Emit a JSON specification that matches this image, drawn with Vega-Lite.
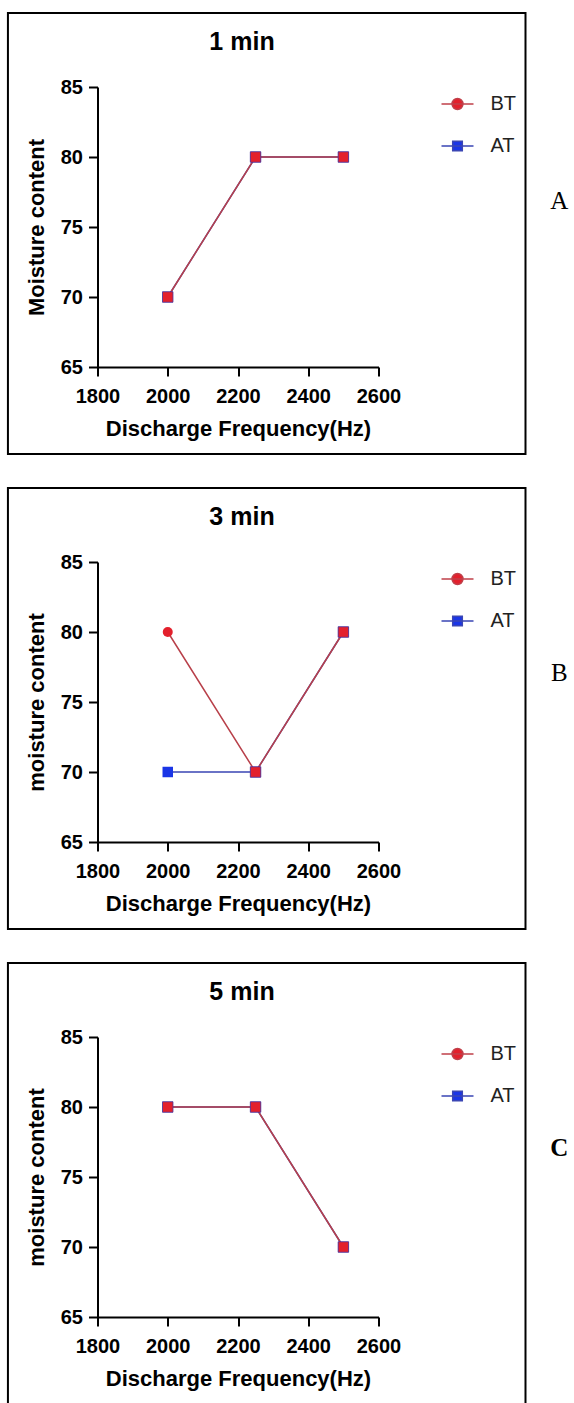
{
  "$schema": "https://vega.github.io/schema/vega-lite/v6.json",
  "background": "white",
  "padding": {"left": 6.5, "top": 11, "right": 0, "bottom": 0},
  "spacing": 31,
  "datasets": {
    "points": [
      {"panel": "A", "freq": 2000, "series": "AT", "value": 70},
      {"panel": "A", "freq": 2250, "series": "AT", "value": 80},
      {"panel": "A", "freq": 2500, "series": "AT", "value": 80},
      {"panel": "A", "freq": 2000, "series": "BT", "value": 70},
      {"panel": "A", "freq": 2250, "series": "BT", "value": 80},
      {"panel": "A", "freq": 2500, "series": "BT", "value": 80},
      {"panel": "B", "freq": 2000, "series": "AT", "value": 70},
      {"panel": "B", "freq": 2250, "series": "AT", "value": 70},
      {"panel": "B", "freq": 2500, "series": "AT", "value": 80},
      {"panel": "B", "freq": 2000, "series": "BT", "value": 80},
      {"panel": "B", "freq": 2250, "series": "BT", "value": 70},
      {"panel": "B", "freq": 2500, "series": "BT", "value": 80},
      {"panel": "C", "freq": 2000, "series": "AT", "value": 80},
      {"panel": "C", "freq": 2250, "series": "AT", "value": 80},
      {"panel": "C", "freq": 2500, "series": "AT", "value": 70},
      {"panel": "C", "freq": 2000, "series": "BT", "value": 80},
      {"panel": "C", "freq": 2250, "series": "BT", "value": 80},
      {"panel": "C", "freq": 2500, "series": "BT", "value": 70}
    ],
    "panels": [
      {"panel": "A", "time": "1 min"},
      {"panel": "B", "time": "3 min"},
      {"panel": "C", "time": "5 min"}
    ]
  },
  "vconcat": [
    {
      "width": 281, "height": 280,
      "title": {"text": "1 min", "fontSize": 25, "fontWeight": "bold", "font": "Liberation Sans", "color": "black", "offset": -37, "dy": 26, "baseline": "alphabetic", "frame": "group", "anchor": "middle", "dx": 4},
      "layer": [
        {
          "data": {"name": "panels"},
          "transform": [{"filter": "datum.panel === 'A'"}],
          "mark": {"type": "rect", "filled": false, "stroke": "black", "strokeWidth": 2, "clip": false},
          "encoding": {
            "x": {"datum": 1545, "type": "quantitative", "scale": {"domain": [1800, 2600], "nice": false, "zero": false}, "axis": {"values": [1800, 2000, 2200, 2400, 2600], "format": "d", "title": "Discharge Frequency(Hz)"}},
            "x2": {"datum": 3018.5},
            "y": {"datum": 90.29, "type": "quantitative", "scale": {"domain": [65, 85], "nice": false, "zero": false}, "axis": {"values": [65, 70, 75, 80, 85], "title": "Moisture content"}},
            "y2": {"datum": 58.79}
          }
        },
        {
          "data": {"name": "panels"},
          "transform": [{"filter": "datum.panel === 'A'"}],
          "mark": {"type": "text", "font": "Liberation Serif", "fontSize": 25, "align": "center", "baseline": "alphabetic", "color": "black", "clip": false},
          "encoding": {"x": {"datum": 3115, "type": "quantitative"}, "y": {"datum": 76.3, "type": "quantitative"}, "text": {"field": "panel"}}
        },
        {"data": {"name": "points"}, "transform": [{"filter": "datum.panel === 'A' && datum.series === 'AT'"}], "mark": {"type": "line", "color": "#3a46b4", "strokeWidth": 1.5},
          "encoding": {"x": {"field": "freq", "type": "quantitative"}, "y": {"field": "value", "type": "quantitative"}}},
        {"data": {"name": "points"}, "transform": [{"filter": "datum.panel === 'A' && datum.series === 'BT'"}], "mark": {"type": "line", "color": "#b8404a", "strokeWidth": 1.5},
          "encoding": {"x": {"field": "freq", "type": "quantitative"}, "y": {"field": "value", "type": "quantitative"}}},
        {"data": {"name": "points"}, "transform": [{"filter": "datum.panel === 'A' && datum.series === 'AT'"}], "mark": {"type": "square", "filled": true, "color": "#1a35e6", "opacity": 1, "size": 110},
          "encoding": {"x": {"field": "freq", "type": "quantitative"}, "y": {"field": "value", "type": "quantitative"}}},
        {"data": {"name": "points"}, "transform": [{"filter": "datum.panel === 'A' && datum.series === 'BT'"}], "mark": {"type": "circle", "color": "#e3202c", "opacity": 1, "size": 100},
          "encoding": {"x": {"field": "freq", "type": "quantitative"}, "y": {"field": "value", "type": "quantitative"}}},
        {
          "data": {"name": "points"},
          "transform": [{"filter": "datum.panel === 'A'"}, {"pivot": "series", "value": "value", "groupby": ["freq"]}, {"filter": "datum.BT === datum.AT"}],
          "mark": {"type": "square", "filled": true, "color": "#e3202c", "stroke": "#4a3aa0", "strokeWidth": 0.8, "opacity": 1, "size": 110},
          "encoding": {"x": {"field": "freq", "type": "quantitative"}, "y": {"field": "BT", "type": "quantitative"}}
        },
        {
          "data": {"name": "points"}, "transform": [{"filter": "datum.panel === 'A'"}],
          "mark": {"type": "point", "filled": true, "opacity": 0, "strokeWidth": 1.5},
          "encoding": {
            "x": {"field": "freq", "type": "quantitative"}, "y": {"field": "value", "type": "quantitative"},
            "fill": {"field": "series", "type": "nominal", "scale": {"domain": ["BT", "AT"], "range": ["#e3202c", "#1a35e6"]},
              "legend": {"title": null, "orient": "right", "offset": 62, "padding": 0, "labelFont": "Liberation Sans", "labelFontSize": 20, "labelFontWeight": "normal", "labelColor": "#222222", "symbolSize": 1024, "labelOffset": 16, "rowPadding": 15, "symbolOpacity": 1, "symbolStrokeWidth": 1.5}},
            "stroke": {"field": "series", "type": "nominal", "scale": {"domain": ["BT", "AT"], "range": ["#c0404a", "#3a46b4"]},
              "legend": {"title": null, "orient": "right", "offset": 62, "padding": 0, "labelFont": "Liberation Sans", "labelFontSize": 20, "labelFontWeight": "normal", "labelColor": "#222222", "symbolSize": 1024, "labelOffset": 16, "rowPadding": 15, "symbolOpacity": 1, "symbolStrokeWidth": 1.5}},
            "shape": {"field": "series", "type": "nominal", "scale": {"domain": ["BT", "AT"], "range": ["M-1,0H1M-0.34,0A0.34,0.34,0,1,1,0.34,0A0.34,0.34,0,1,1,-0.34,0Z", "M-1,0H1M-0.3,-0.3H0.3V0.3H-0.3Z"]},
              "legend": {"title": null, "orient": "right", "offset": 62, "padding": 0, "labelFont": "Liberation Sans", "labelFontSize": 20, "labelFontWeight": "normal", "labelColor": "#222222", "symbolSize": 1024, "labelOffset": 16, "rowPadding": 15, "symbolOpacity": 1, "symbolStrokeWidth": 1.5}}
          }
        }
      ]
    },
    {
      "width": 281, "height": 280,
      "title": {"text": "3 min", "fontSize": 25, "fontWeight": "bold", "font": "Liberation Sans", "color": "black", "offset": -37, "dy": 26, "baseline": "alphabetic", "frame": "group", "anchor": "middle", "dx": 4},
      "layer": [
        {
          "data": {"name": "panels"},
          "transform": [{"filter": "datum.panel === 'B'"}],
          "mark": {"type": "rect", "filled": false, "stroke": "black", "strokeWidth": 2, "clip": false},
          "encoding": {
            "x": {"datum": 1545, "type": "quantitative", "scale": {"domain": [1800, 2600], "nice": false, "zero": false}, "axis": {"values": [1800, 2000, 2200, 2400, 2600], "format": "d", "title": "Discharge Frequency(Hz)"}},
            "x2": {"datum": 3018.5},
            "y": {"datum": 90.29, "type": "quantitative", "scale": {"domain": [65, 85], "nice": false, "zero": false}, "axis": {"values": [65, 70, 75, 80, 85], "title": "moisture content"}},
            "y2": {"datum": 58.79}
          }
        },
        {
          "data": {"name": "panels"},
          "transform": [{"filter": "datum.panel === 'B'"}],
          "mark": {"type": "text", "font": "Liberation Serif", "fontSize": 25, "align": "center", "baseline": "alphabetic", "color": "black", "clip": false},
          "encoding": {"x": {"datum": 3115, "type": "quantitative"}, "y": {"datum": 76.5, "type": "quantitative"}, "text": {"field": "panel"}}
        },
        {"data": {"name": "points"}, "transform": [{"filter": "datum.panel === 'B' && datum.series === 'AT'"}], "mark": {"type": "line", "color": "#3a46b4", "strokeWidth": 1.5},
          "encoding": {"x": {"field": "freq", "type": "quantitative"}, "y": {"field": "value", "type": "quantitative"}}},
        {"data": {"name": "points"}, "transform": [{"filter": "datum.panel === 'B' && datum.series === 'BT'"}], "mark": {"type": "line", "color": "#b8404a", "strokeWidth": 1.5},
          "encoding": {"x": {"field": "freq", "type": "quantitative"}, "y": {"field": "value", "type": "quantitative"}}},
        {"data": {"name": "points"}, "transform": [{"filter": "datum.panel === 'B' && datum.series === 'AT'"}], "mark": {"type": "square", "filled": true, "color": "#1a35e6", "opacity": 1, "size": 110},
          "encoding": {"x": {"field": "freq", "type": "quantitative"}, "y": {"field": "value", "type": "quantitative"}}},
        {"data": {"name": "points"}, "transform": [{"filter": "datum.panel === 'B' && datum.series === 'BT'"}], "mark": {"type": "circle", "color": "#e3202c", "opacity": 1, "size": 100},
          "encoding": {"x": {"field": "freq", "type": "quantitative"}, "y": {"field": "value", "type": "quantitative"}}},
        {
          "data": {"name": "points"},
          "transform": [{"filter": "datum.panel === 'B'"}, {"pivot": "series", "value": "value", "groupby": ["freq"]}, {"filter": "datum.BT === datum.AT"}],
          "mark": {"type": "square", "filled": true, "color": "#e3202c", "stroke": "#4a3aa0", "strokeWidth": 0.8, "opacity": 1, "size": 110},
          "encoding": {"x": {"field": "freq", "type": "quantitative"}, "y": {"field": "BT", "type": "quantitative"}}
        },
        {
          "data": {"name": "points"}, "transform": [{"filter": "datum.panel === 'B'"}],
          "mark": {"type": "point", "filled": true, "opacity": 0, "strokeWidth": 1.5},
          "encoding": {
            "x": {"field": "freq", "type": "quantitative"}, "y": {"field": "value", "type": "quantitative"},
            "fill": {"field": "series", "type": "nominal", "scale": {"domain": ["BT", "AT"], "range": ["#e3202c", "#1a35e6"]},
              "legend": {"title": null, "orient": "right", "offset": 62, "padding": 0, "labelFont": "Liberation Sans", "labelFontSize": 20, "labelFontWeight": "normal", "labelColor": "#222222", "symbolSize": 1024, "labelOffset": 16, "rowPadding": 15, "symbolOpacity": 1, "symbolStrokeWidth": 1.5}},
            "stroke": {"field": "series", "type": "nominal", "scale": {"domain": ["BT", "AT"], "range": ["#c0404a", "#3a46b4"]},
              "legend": {"title": null, "orient": "right", "offset": 62, "padding": 0, "labelFont": "Liberation Sans", "labelFontSize": 20, "labelFontWeight": "normal", "labelColor": "#222222", "symbolSize": 1024, "labelOffset": 16, "rowPadding": 15, "symbolOpacity": 1, "symbolStrokeWidth": 1.5}},
            "shape": {"field": "series", "type": "nominal", "scale": {"domain": ["BT", "AT"], "range": ["M-1,0H1M-0.34,0A0.34,0.34,0,1,1,0.34,0A0.34,0.34,0,1,1,-0.34,0Z", "M-1,0H1M-0.3,-0.3H0.3V0.3H-0.3Z"]},
              "legend": {"title": null, "orient": "right", "offset": 62, "padding": 0, "labelFont": "Liberation Sans", "labelFontSize": 20, "labelFontWeight": "normal", "labelColor": "#222222", "symbolSize": 1024, "labelOffset": 16, "rowPadding": 15, "symbolOpacity": 1, "symbolStrokeWidth": 1.5}}
          }
        }
      ]
    },
    {
      "width": 281, "height": 280,
      "title": {"text": "5 min", "fontSize": 25, "fontWeight": "bold", "font": "Liberation Sans", "color": "black", "offset": -37, "dy": 26, "baseline": "alphabetic", "frame": "group", "anchor": "middle", "dx": 4},
      "layer": [
        {
          "data": {"name": "panels"},
          "transform": [{"filter": "datum.panel === 'C'"}],
          "mark": {"type": "rect", "filled": false, "stroke": "black", "strokeWidth": 2, "clip": false},
          "encoding": {
            "x": {"datum": 1545, "type": "quantitative", "scale": {"domain": [1800, 2600], "nice": false, "zero": false}, "axis": {"values": [1800, 2000, 2200, 2400, 2600], "format": "d", "title": "Discharge Frequency(Hz)"}},
            "x2": {"datum": 3018.5},
            "y": {"datum": 90.29, "type": "quantitative", "scale": {"domain": [65, 85], "nice": false, "zero": false}, "axis": {"values": [65, 70, 75, 80, 85], "title": "moisture content"}},
            "y2": {"datum": 58.79}
          }
        },
        {
          "data": {"name": "panels"},
          "transform": [{"filter": "datum.panel === 'C'"}],
          "mark": {"type": "text", "font": "Liberation Serif", "fontSize": 25, "fontWeight": "bold", "align": "center", "baseline": "alphabetic", "color": "black", "clip": false},
          "encoding": {"x": {"datum": 3115, "type": "quantitative"}, "y": {"datum": 76.5, "type": "quantitative"}, "text": {"field": "panel"}}
        },
        {"data": {"name": "points"}, "transform": [{"filter": "datum.panel === 'C' && datum.series === 'AT'"}], "mark": {"type": "line", "color": "#3a46b4", "strokeWidth": 1.5},
          "encoding": {"x": {"field": "freq", "type": "quantitative"}, "y": {"field": "value", "type": "quantitative"}}},
        {"data": {"name": "points"}, "transform": [{"filter": "datum.panel === 'C' && datum.series === 'BT'"}], "mark": {"type": "line", "color": "#b8404a", "strokeWidth": 1.5},
          "encoding": {"x": {"field": "freq", "type": "quantitative"}, "y": {"field": "value", "type": "quantitative"}}},
        {"data": {"name": "points"}, "transform": [{"filter": "datum.panel === 'C' && datum.series === 'AT'"}], "mark": {"type": "square", "filled": true, "color": "#1a35e6", "opacity": 1, "size": 110},
          "encoding": {"x": {"field": "freq", "type": "quantitative"}, "y": {"field": "value", "type": "quantitative"}}},
        {"data": {"name": "points"}, "transform": [{"filter": "datum.panel === 'C' && datum.series === 'BT'"}], "mark": {"type": "circle", "color": "#e3202c", "opacity": 1, "size": 100},
          "encoding": {"x": {"field": "freq", "type": "quantitative"}, "y": {"field": "value", "type": "quantitative"}}},
        {
          "data": {"name": "points"},
          "transform": [{"filter": "datum.panel === 'C'"}, {"pivot": "series", "value": "value", "groupby": ["freq"]}, {"filter": "datum.BT === datum.AT"}],
          "mark": {"type": "square", "filled": true, "color": "#e3202c", "stroke": "#4a3aa0", "strokeWidth": 0.8, "opacity": 1, "size": 110},
          "encoding": {"x": {"field": "freq", "type": "quantitative"}, "y": {"field": "BT", "type": "quantitative"}}
        },
        {
          "data": {"name": "points"}, "transform": [{"filter": "datum.panel === 'C'"}],
          "mark": {"type": "point", "filled": true, "opacity": 0, "strokeWidth": 1.5},
          "encoding": {
            "x": {"field": "freq", "type": "quantitative"}, "y": {"field": "value", "type": "quantitative"},
            "fill": {"field": "series", "type": "nominal", "scale": {"domain": ["BT", "AT"], "range": ["#e3202c", "#1a35e6"]},
              "legend": {"title": null, "orient": "right", "offset": 62, "padding": 0, "labelFont": "Liberation Sans", "labelFontSize": 20, "labelFontWeight": "normal", "labelColor": "#222222", "symbolSize": 1024, "labelOffset": 16, "rowPadding": 15, "symbolOpacity": 1, "symbolStrokeWidth": 1.5}},
            "stroke": {"field": "series", "type": "nominal", "scale": {"domain": ["BT", "AT"], "range": ["#c0404a", "#3a46b4"]},
              "legend": {"title": null, "orient": "right", "offset": 62, "padding": 0, "labelFont": "Liberation Sans", "labelFontSize": 20, "labelFontWeight": "normal", "labelColor": "#222222", "symbolSize": 1024, "labelOffset": 16, "rowPadding": 15, "symbolOpacity": 1, "symbolStrokeWidth": 1.5}},
            "shape": {"field": "series", "type": "nominal", "scale": {"domain": ["BT", "AT"], "range": ["M-1,0H1M-0.34,0A0.34,0.34,0,1,1,0.34,0A0.34,0.34,0,1,1,-0.34,0Z", "M-1,0H1M-0.3,-0.3H0.3V0.3H-0.3Z"]},
              "legend": {"title": null, "orient": "right", "offset": 62, "padding": 0, "labelFont": "Liberation Sans", "labelFontSize": 20, "labelFontWeight": "normal", "labelColor": "#222222", "symbolSize": 1024, "labelOffset": 16, "rowPadding": 15, "symbolOpacity": 1, "symbolStrokeWidth": 1.5}}
          }
        }
      ]
    }
  ],
  "resolve": {
    "scale": {"x": "independent", "y": "independent", "fill": "independent", "stroke": "independent", "shape": "independent"},
    "legend": {"fill": "independent", "stroke": "independent", "shape": "independent"},
    "axis": {"x": "independent", "y": "independent"}
  },
  "config": {
    "view": {"stroke": null},
    "font": "Liberation Sans",
    "axis": {"domainColor": "black", "domainWidth": 2, "tickColor": "black", "tickWidth": 2, "tickSize": 9, "grid": false, "labelFont": "Liberation Sans", "labelFontSize": 20, "labelFontWeight": "bold", "labelColor": "black", "titleFont": "Liberation Sans", "titleFontSize": 22, "titleFontWeight": "bold", "titleColor": "black", "labelOverlap": false},
    "axisX": {"labelPadding": 10, "titlePadding": 12, "labelFlush": false},
    "axisY": {"labelPadding": 6, "titlePadding": 12}
  }
}
